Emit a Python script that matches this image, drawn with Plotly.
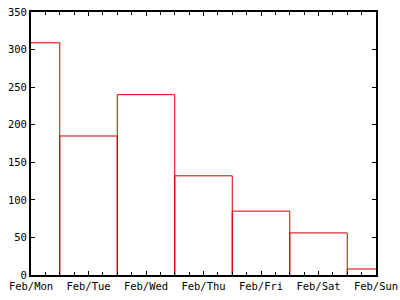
import plotly.graph_objects as go

days = ["Feb/Mon", "Feb/Tue", "Feb/Wed", "Feb/Thu", "Feb/Fri", "Feb/Sat", "Feb/Sun"]
counts = [309, 185, 240, 132, 85, 56, 8]
yticks = [0, 50, 100, 150, 200, 250, 300, 350]

xpos = list(range(len(days)))

# outline of each histogram box, centred on its day
ox, oy = [], []
for i, c in zip(xpos, counts):
    ox += [i - 0.5, i - 0.5, i + 0.5, i + 0.5, None]
    oy += [0, c, c, 0, None]

fig = go.Figure()
fig.add_trace(go.Scatter(
    x=ox, y=oy, mode="lines",
    line=dict(color="rgb(204,0,0)", width=1),
    cliponaxis=True, hoverinfo="skip",
))

fig.update_layout(
    width=400, height=300,
    margin=dict(l=31, r=24, t=12, b=25, autoexpand=False),
    paper_bgcolor="white", plot_bgcolor="white",
    showlegend=False,
    font=dict(family="DejaVu Sans Mono", size=10.5, color="black"),
)
fig.update_xaxes(
    range=[0, 6], tickvals=xpos, ticktext=days, automargin=False,
    showgrid=False, zeroline=False,
    showline=True, linecolor="black", linewidth=2, mirror="allticks",
    ticks="inside", ticklen=4, tickcolor="black", tickwidth=1,
    minor=dict(dtick=0.25, ticks="inside", ticklen=3, tickcolor="black", showgrid=False),
)
fig.update_yaxes(
    range=[0, 350], tickvals=yticks, automargin=False,
    showgrid=False, zeroline=False,
    showline=True, linecolor="black", linewidth=2, mirror="allticks",
    ticks="inside", ticklen=4, tickcolor="black", tickwidth=1,
)
fig.write_html("out.html")
